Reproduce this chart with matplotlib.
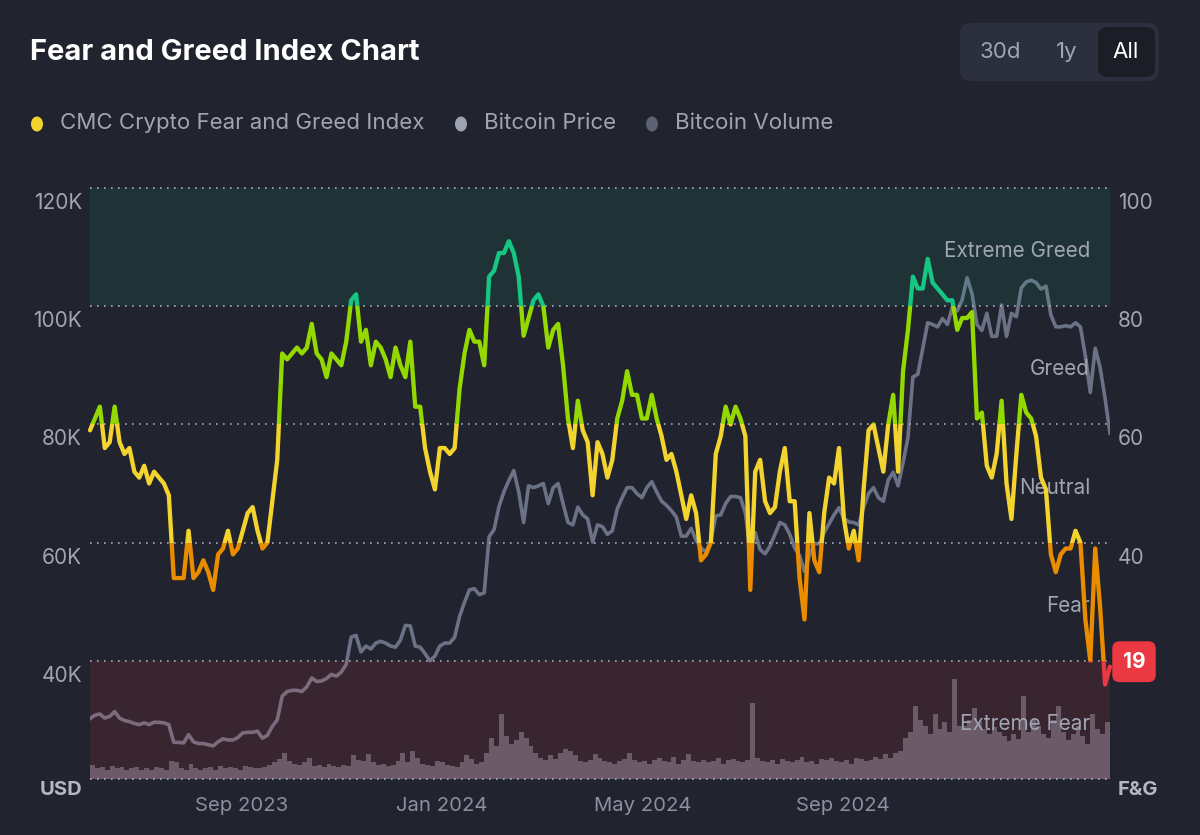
import matplotlib
matplotlib.use("Agg")
import matplotlib.pyplot as plt
import matplotlib.transforms as mtransforms
from matplotlib.patches import Rectangle, FancyBboxPatch, Ellipse
import pandas as pd

plt.rcParams['font.family'] = ['Inter', 'DejaVu Sans']

# ---------------- data (3-day samples) ----------------
start_date = "2023-06-29"
step = "3D"

fng = [59,61,63,56,57,63,57,55,56,52,51,53,50,52,51,50,48,34,34,34,42,34,35,37,35,32,38,39,42,38,39,42,45,46,42,39,40,47,54,72,71,72,
       73,72,73,77,72,71,68,72,71,70,74,81,82,74,76,70,74,73,71,68,73,70,68,74,63,63,56,52,49,56,56,55,56,66,72,76,74,74,70,85,86,
       89,89,91,89,85,75,78,81,82,80,73,76,77,70,61,56,64,59,57,48,57,55,51,54,61,64,69,65,65,61,61,65,61,58,54,55,52,48,44,48,45,
       37,38,40,55,58,63,60,63,61,58,32,52,54,47,45,46,52,56,47,47,34,27,45,37,35,45,51,50,56,44,39,42,37,49,59,60,56,52,60,65,52,
       69,76,85,83,83,88,84,83,82,81,81,76,78,78,79,61,62,53,51,55,64,50,44,55,65,62,61,58,51,49,38,35,38,39,39,42,40,27,20,39,29,16,19]

btc_price_k = [30.2,30.8,31.0,30.3,30.6,31.4,30.3,29.9,29.7,29.4,29.2,29.5,29.2,29.6,29.6,29.5,29.2,26.2,26.2,26.1,27.5,26.3,26.0,26.0,25.8,25.6,26.3,26.8,26.6,26.6,27.0,27.8,27.9,27.9,28.1,26.9,27.4,28.9,30.0,34.0,34.8,35.0,
               35.0,34.8,35.6,37.1,36.5,36.6,37.0,37.7,37.4,38.1,39.4,44.0,44.3,41.5,42.5,42.0,43.0,43.3,43.0,42.5,42.3,43.5,46.0,45.9,42.5,42.3,41.2,40.0,40.8,42.5,43.0,43.0,44.0,47.5,49.9,52.0,52.2,51.2,51.5,61.0,62.2,
               66.1,68.6,70.5,72.2,68.6,63.4,69.6,69.3,69.6,70.0,66.6,69.3,70.0,66.6,63.4,63.0,66.0,64.7,64.0,60.1,63.0,62.7,61.4,62.0,65.7,67.6,69.3,69.3,68.3,67.6,69.3,70.3,68.6,67.0,66.3,65.4,64.3,61.1,61.1,62.4,60.4,
               59.1,58.4,60.4,64.5,64.7,66.6,67.8,67.8,67.6,65.0,58.5,61.7,58.8,58.1,59.4,61.4,63.4,63.0,61.4,59.1,57.8,55.1,57.8,59.8,59.8,61.7,63.2,64.7,65.9,64.1,63.5,63.4,63.0,66.0,68.3,69.3,67.6,67.0,70.6,71.9,69.6,
               73.5,77.8,88.0,88.5,92.9,97.2,96.9,96.5,97.9,96.9,99.8,99.2,101.1,104.8,102.1,96.9,95.9,98.8,94.9,94.9,100.2,94.9,98.8,98.2,103.1,104.1,104.4,104.0,102.9,103.4,98.5,96.5,96.5,96.7,96.5,97.2,96.5,91.6,85.4,92.9,89.6,84.4,78.5]

btc_volume_b = [12,9,10,8,11,9,10,8,9,10,8,9,8,10,9,8,15,14,9,8,13,9,8,9,10,8,11,9,10,9,8,11,10,9,9,10,12,14,17,22,15,13,
                12,14,18,11,12,10,13,11,10,12,11,20,16,15,21,14,12,13,11,12,15,22,14,24,18,13,12,11,15,14,12,11,10,14,20,17,13,14,22,35,28,
                55,36,30,33,40,35,28,22,18,16,20,17,22,25,24,20,15,14,16,21,18,15,14,13,15,17,22,16,14,15,13,16,18,15,14,19,13,16,21,15,14,
                16,14,15,18,13,16,17,15,14,16,64,18,15,14,16,13,17,15,14,16,19,14,15,13,17,16,18,15,14,16,13,18,17,15,16,19,17,21,18,22,24,
                35,40,62,50,45,38,55,42,48,40,85,45,45,50,60,48,42,38,44,40,36,32,38,34,70,40,50,45,38,35,50,62,40,33,38,45,36,30,55,42,38,48,30]

x_ticks = ["2023-09-01", "2024-01-01", "2024-05-01", "2024-09-01"]
x_tick_labels = ["Sep 2023", "Jan 2024", "May 2024", "Sep 2024"]
price_ticks = [120, 100, 80, 60, 40]
price_tick_labels = ["120K", "100K", "80K", "60K", "40K"]
fng_ticks = [100, 80, 60, 40]
zones = [(0, 20, "Extreme Fear", "#ea3943"), (20, 40, "Fear", "#ea8c00"),
         (40, 60, "Neutral", "#f3d42f"), (60, 80, "Greed", "#93d900"),
         (80, 100, "Extreme Greed", "#16c784")]
legend_items = [("CMC Crypto Fear and Greed Index", "#f3d42f"),
                ("Bitcoin Price", "#9ea3b1"), ("Bitcoin Volume", "#5d6273")]

dates = pd.date_range(start_date, periods=len(fng), freq=step)

# ---------------- styling ----------------
BG = "#21232e"
LABEL = "#a0a5b4"
XLABEL = "#8a90a2"
W, H = 1200, 835

fig = plt.figure(figsize=(W / 100, H / 100), dpi=100, facecolor=BG)
rect = [90 / W, (H - 779) / H, 1020 / W, 591 / H]
ax = fig.add_axes(rect)
ax_p = ax.twinx()
ax_v = ax.twinx()
ax_v.set_zorder(1)
ax_p.set_zorder(2)
ax.set_zorder(3)
for a in (ax, ax_p, ax_v):
    a.patch.set_visible(False)
    for s in a.spines.values():
        s.set_visible(False)
    a.tick_params(left=False, right=False, labelleft=False, labelright=False)

ax.set_xlim(dates[0], dates[-1])
ax.set_ylim(0, 100)
ax_p.set_ylim(20, 120)
ax_v.set_ylim(0, 500)

# volume
ax_v.bar(dates, btc_volume_b, width=3, align='edge', color="#5a606f", linewidth=0)
# price
ax_p.plot(dates, btc_price_k, color="#6b7286", lw=2.6, solid_joinstyle='round', zorder=2)

# bands
ax.axhspan(80, 100, color="#16c784", alpha=0.10, lw=0, zorder=1)
ax.axhspan(0, 20, color="#ea3943", alpha=0.12, lw=0, zorder=1)

# grid lines
for v in [0, 20, 40, 60, 80, 100]:
    ax.axhline(v, color="#a8adbb", lw=1.2, ls=(0, (1, 3.2)), dash_capstyle='butt',
               zorder=2, clip_on=False)

# F&G line, coloured by zone through clipping
blend = mtransforms.blended_transform_factory(ax.transAxes, ax.transData)
for lo, hi, name, col in zones:
    lo_c = -20 if lo == 0 else lo
    hi_c = 120 if hi == 100 else hi
    ln, = ax.plot(dates, fng, color=col, lw=3.1, solid_joinstyle='round',
                  solid_capstyle='round', zorder=5, clip_on=True)
    clip = Rectangle((-0.02, lo_c), 1.04, hi_c - lo_c, transform=blend)
    ln.set_clip_path(clip)

# zone labels
for lo, hi, name, col in zones:
    ax.text(0.9805, lo + 9.3, name, transform=blend, ha='right', va='center',
            color=LABEL, fontsize=14.9, zorder=4)

# x ticks
ax.set_xticks(pd.to_datetime(x_ticks))
ax.set_xticklabels(x_tick_labels)
ax.tick_params(axis='x', length=0, pad=13, labelsize=14.6, labelcolor=XLABEL)
for lbl in ax.get_xticklabels():
    lbl.set_ha('left')

# y labels
left_off = mtransforms.ScaledTranslation(-8 / 100, -5 / 100, fig.dpi_scale_trans)
right_off = mtransforms.ScaledTranslation(8 / 100, -5 / 100, fig.dpi_scale_trans)
blend_p = mtransforms.blended_transform_factory(ax_p.transAxes, ax_p.transData)
for v, t in zip(price_ticks, price_tick_labels):
    ax_p.text(0, v, t, transform=blend_p + left_off, ha='right', va='top',
              color=LABEL, fontsize=15, clip_on=False)
for v in fng_ticks:
    ax.text(1, v, str(v), transform=blend + right_off, ha='left', va='top',
            color=LABEL, fontsize=15, clip_on=False)

fig.text(82 / W, 1 - 790 / H, "USD", ha='right', va='center', color="#b4b8c5",
         fontsize=14.5, fontweight='bold')
fig.text(1118 / W, 1 - 790 / H, "F&G", ha='left', va='center', color="#b4b8c5",
         fontsize=14.5, fontweight='bold')

# current value badge
ax.annotate(str(fng[-1]), xy=(dates[-1], fng[-1]), xytext=(24, 5),
            textcoords='offset pixels', ha='center', va='center', color='white',
            fontsize=15, fontweight='bold', annotation_clip=False, zorder=10,
            bbox=dict(boxstyle='round,pad=0.5,rounding_size=0.35', fc="#ea3943", ec='none'))

# title
fig.text(30 / W, 1 - 52 / H, "Fear and Greed Index Chart", ha='left', va='center',
         color='white', fontsize=21, fontweight='bold')

# legend
inch = fig.dpi_scale_trans
leg_pos = [(37, 60), (461, 484), (652, 675)]
for (label, col), (dx, tx) in zip(legend_items, leg_pos):
    fig.add_artist(Ellipse((dx / 100, (H - 124) / 100), 0.12, 0.15, transform=inch,
                           color=col, lw=0))
    fig.text(tx / W, 1 - 123 / H, label, ha='left', va='center', color=LABEL,
             fontsize=16)

# range buttons
fig.add_artist(FancyBboxPatch((9.60, (H - 81) / 100), 1.99, 0.58,
                              boxstyle='round,pad=0,rounding_size=0.11',
                              transform=inch, fc="#2c2f3d", ec='none'))
fig.add_artist(FancyBboxPatch((10.98, (H - 77) / 100), 0.57, 0.50,
                              boxstyle='round,pad=0,rounding_size=0.09',
                              transform=inch, fc="#1c1e27", ec='none'))
for t, cx, c in [("30d", 1000, "#a0a5b4"), ("1y", 1067, "#a0a5b4"), ("All", 1126, "white")]:
    fig.text(cx / W, 1 - 52 / H, t, ha='center', va='center', color=c, fontsize=16)

fig.savefig("out.png", dpi=100, facecolor=BG)
